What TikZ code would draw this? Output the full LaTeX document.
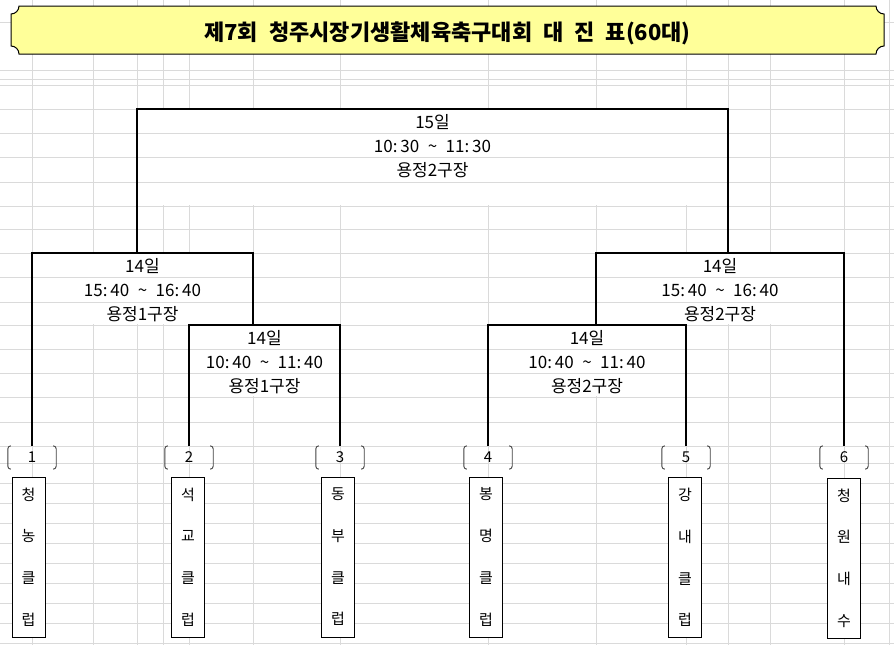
\documentclass[tikz,border=0pt]{standalone}
\usepackage{fontspec}
\newfontfamily\krfont{Noto Sans CJK KR}
\usetikzlibrary{calc}
\definecolor{gridgray}{RGB}{218,218,218}
\definecolor{titleyellow}{RGB}{255,255,153}
\def\widesp{\spaceskip=0.5em\relax}
\def\numparen(#1){%
  \draw[paren] ($(#1.north west)+(3,0)$) -- (#1.north west) -- (#1.south west) -- ($(#1.south west)+(3,0)$);
  \draw[paren] ($(#1.north east)+(-3,0)$) -- (#1.north east) -- (#1.south east) -- ($(#1.south east)+(-3,0)$);}
\tikzset{
  cellgrid/.style={gridgray, line width=1pt},
  bracketline/.style={line width=2pt},
  paren/.style={line width=0.9pt, rounded corners=3pt, black!75},
  info/.style={align=center, inner sep=0pt, font=\krfont\fontsize{17}{24.25}\selectfont},
  numlbl/.style={minimum width=48pt, minimum height=23pt, inner sep=0pt, font=\krfont\fontsize{15}{15}\selectfont},
  teambox/.style={draw, fill=white, line width=1pt, minimum width=33pt, minimum height=160pt, inner sep=0pt, align=center, font=\krfont\fontsize{15}{41.7}\selectfont},
}

\begin{document}
\begin{tikzpicture}[x=1pt,y=-1pt]
		%%%%% START %%%%%
		\useasboundingbox (0,0) rectangle (894,645);
		
		\foreach \gx in {32,93,137,163,189,253,340,488,596,686,728,770,844,889}
			\draw[cellgrid] (\gx,0) -- (\gx,645);
		\fill[white] (138,110) rectangle (727,205);
		\fill[white] (33,254) rectangle (252,324);
		\fill[white] (190,326) rectangle (339,396);
		\fill[white] (597,254) rectangle (843,324);
		\fill[white] (489,326) rectangle (685,396);
		\foreach \gy in {22,70,79,85,109,133,157,182,206,229,253,277,302,325,349,373,397,422,446,463,483,503,523,543,563,583,603,623,643}
			\draw[cellgrid] (0,\gy) -- (894,\gy);
		
		\draw[fill=titleyellow, line width=1pt] (19,6) -- (876,6) arc[start angle=180, end angle=90, radius=8]
			-- (884,46) arc[start angle=270, end angle=180, radius=8]
			-- (19,54) arc[start angle=0, end angle=-90, radius=8]
			-- (11,14) arc[start angle=90, end angle=0, radius=8] -- cycle;
		\node[font=\krfont\bfseries\fontsize{22}{22}\selectfont] (title) at (447.5,33.5) {\widesp 제7회 청주시장기생활체육축구대회 대 진 표(60대)};
		
		\node[numlbl] (n1) at (32,457.5) {1};
		\node[numlbl] (n2) at (189,457.5) {2};
		\node[numlbl] (n3) at (340,457.5) {3};
		\node[numlbl] (n4) at (488,457.5) {4};
		\node[numlbl] (n5) at (686,457.5) {5};
		\node[numlbl] (n6) at (844,457.5) {6};
		\numparen(n1) \numparen(n2) \numparen(n3)
		\numparen(n4) \numparen(n5) \numparen(n6)
		
		\node[teambox] (t1) at (28.5,557) {청\\농\\클\\럽};
		\node[teambox] (t2) at (188,557) {석\\교\\클\\럽};
		\node[teambox] (t3) at (338,557) {동\\부\\클\\럽};
		\node[teambox] (t4) at (486,557) {봉\\명\\클\\럽};
		\node[teambox] (t5) at (685,557.5) {강\\내\\클\\럽};
		\node[teambox] (t6) at (844,558) {청\\원\\내\\수};
		
		\coordinate (m1) at (264.5,325);
		\coordinate (m2) at (587,325);
		\coordinate (m1up) at (253,325);
		\coordinate (m2up) at (596,325);
		\coordinate (s1) at (142.5,253);
		\coordinate (s2) at (720,253);
		\coordinate (s1up) at (137,253);
		\coordinate (s2up) at (728,253);
		\coordinate (f) at (432.5,109);
		
		\draw[bracketline] (n2.north) |- (m1) -| (n3.north);
		\draw[bracketline] (n4.north) |- (m2) -| (n5.north);
		\draw[bracketline] (n1.north) |- (s1) -| (m1up);
		\draw[bracketline] (m2up) |- (s2) -| (n6.north);
		\draw[bracketline] (s1up) |- (f) -| (s2up);
		
		\node[info] (i1) at (264.5,362) {14일\\10:\,40\enspace\textasciitilde\enspace11:\,40\\용정1구장};
		\node[info] (i2) at (587,362) {14일\\10:\,40\enspace\textasciitilde\enspace11:\,40\\용정2구장};
		\node[info] (i3) at (142.5,290) {14일\\15:\,40\enspace\textasciitilde\enspace16:\,40\\용정1구장};
		\node[info] (i4) at (720,290) {14일\\15:\,40\enspace\textasciitilde\enspace16:\,40\\용정2구장};
		\node[info] (i5) at (432.5,146) {15일\\10:\,30\enspace\textasciitilde\enspace11:\,30\\용정2구장};
		%%%%% END %%%%%
	\end{tikzpicture}
\end{document}
